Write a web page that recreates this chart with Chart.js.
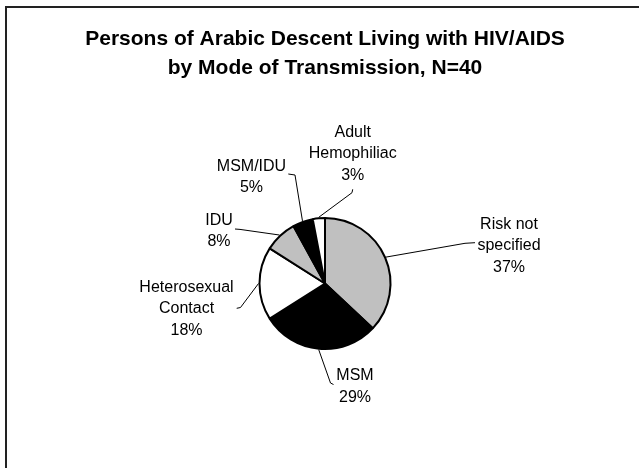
<!DOCTYPE html>
<html>
<head>
<meta charset="utf-8">
<script src="https://cdn.jsdelivr.net/npm/chart.js@4.4.1/dist/chart.umd.min.js"></script>
<style>
  html, body { margin: 0; padding: 0; background: #ffffff; }
  canvas { display: block; }
</style>
</head>
<body>
<canvas id="c" width="639" height="468"></canvas>
<script>
// ---- data ----
const titleLines = ['Persons of Arabic Descent Living with HIV/AIDS', 'by Mode of Transmission, N=40'];
const categories = ['Risk not specified', 'MSM', 'Heterosexual Contact', 'IDU', 'MSM/IDU', 'Adult Hemophiliac'];
const percentages = [37, 29, 18, 8, 5, 3];
const categoryLabelLines = [['Risk not', 'specified'], ['MSM'], ['Heterosexual', 'Contact'], ['IDU'], ['MSM/IDU'], ['Adult', 'Hemophiliac']];

// ---- styles (kept apart from data) ----
const sliceColors = ['#c0c0c0', '#000000', '#ffffff', '#c0c0c0', '#000000', '#ffffff'];
// label block centre, leader anchor and knee, as offsets from the pie centre
const labelOffsets = [[184, -37.5], [30, 103], [-138.5, 25.5], [-106, -52.5], [-73.5, -106.5], [27.7, -129.5]];
const leaderAnchors = [[150, -40.8], [8.5, 101], [-88.3, 24.8], [-90, -54.5], [-36.7, -109.5], [27.7, -94.2]];
const leaderKnees = [[140, -40.2], [5.5, 99.5], [-84.5, 24], [-85, -54.1], [-30, -108.5], [27, -90.8]];
const FONT = "'Liberation Sans', Arial, sans-serif";

const framePlugin = {
  id: 'frame',
  beforeDraw(chart) {
    const ctx = chart.ctx;
    ctx.save();
    ctx.fillStyle = '#ffffff';
    ctx.fillRect(0, 0, chart.width, chart.height);
    ctx.strokeStyle = '#222222';
    ctx.lineWidth = 2;
    ctx.strokeRect(6, 7, chart.width + 20, chart.height + 20);
    ctx.restore();
  }
};

const labelPlugin = {
  id: 'pieLabels',
  afterDatasetsDraw(chart) {
    const ctx = chart.ctx;
    const meta = chart.getDatasetMeta(0);
    const data = chart.data.datasets[0].data;
    ctx.save();
    ctx.font = '16px ' + FONT;
    ctx.fillStyle = '#000000';
    ctx.textAlign = 'center';
    ctx.textBaseline = 'middle';
    ctx.strokeStyle = '#000000';
    ctx.lineWidth = 1;
    const lineH = 21.5;
    meta.data.forEach((arc, i) => {
      const p = arc.getProps(['x', 'y', 'startAngle', 'endAngle', 'outerRadius'], true);
      const cx = p.x, cy = p.y;
      const mid = (p.startAngle + p.endAngle) / 2;
      const r = p.outerRadius + 1;
      const ex = cx + Math.cos(mid) * r;
      const ey = cy + Math.sin(mid) * r;
      // leader line
      ctx.beginPath();
      ctx.moveTo(cx + leaderAnchors[i][0], cy + leaderAnchors[i][1]);
      ctx.lineTo(cx + leaderKnees[i][0], cy + leaderKnees[i][1]);
      ctx.lineTo(ex, ey);
      ctx.stroke();
      // text
      const lines = categoryLabelLines[i].concat([data[i] + '%']);
      const bx = cx + labelOffsets[i][0];
      const by = cy + labelOffsets[i][1] - (lines.length - 1) * lineH / 2;
      lines.forEach((t, k) => ctx.fillText(t, bx, by + k * lineH));
    });
    ctx.restore();
  }
};

new Chart(document.getElementById('c'), {
  type: 'pie',
  data: {
    labels: categories,
    datasets: [{
      data: percentages,
      backgroundColor: sliceColors,
      borderColor: '#000000',
      borderWidth: 2,
      hoverOffset: 0
    }]
  },
  options: {
    responsive: false,
    animation: false,
    devicePixelRatio: 1,
    layout: { padding: { left: 11, right: 0, top: 0, bottom: 118 } },
    plugins: {
      legend: { display: false },
      tooltip: { enabled: false },
      title: {
        display: true,
        text: titleLines,
        color: '#000000',
        font: { family: FONT, size: 21, weight: 'bold', lineHeight: 29 / 21 },
        padding: { top: 25, bottom: 134 }
      }
    }
  },
  plugins: [framePlugin, labelPlugin]
});
</script>
</body>
</html>
